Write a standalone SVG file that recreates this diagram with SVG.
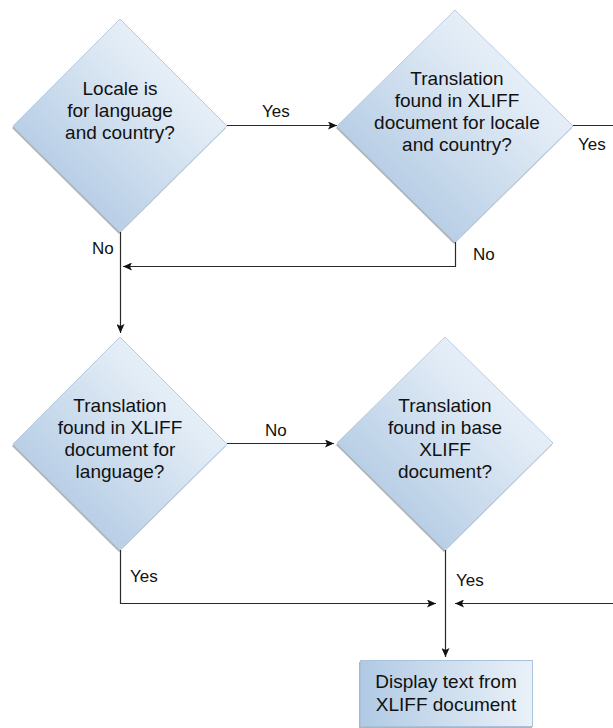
<svg xmlns="http://www.w3.org/2000/svg" width="613" height="728" viewBox="0 0 613 728">
<defs>
<linearGradient id="dg" x1="1" y1="0" x2="0" y2="1">
<stop offset="0" stop-color="#f4f8fc"/>
<stop offset="0.3" stop-color="#e2ecf6"/>
<stop offset="1" stop-color="#a2bfdd"/>
</linearGradient>
<linearGradient id="bg" x1="0" y1="0" x2="1" y2="0">
<stop offset="0" stop-color="#b0cae4"/>
<stop offset="1" stop-color="#eaf1f8"/>
</linearGradient>
<marker id="ah" markerWidth="10" markerHeight="8" refX="9" refY="4" orient="auto" markerUnits="userSpaceOnUse">
<path d="M0,0 L9,4 L0,8 L2,4 Z" fill="#111"/>
</marker>
</defs>
<style>
.sh{fill:#6d7680;opacity:0.55}
.dm{fill:url(#dg);stroke:#b9cde2;stroke-width:1}
.bx{fill:url(#bg);stroke:#a9c1da;stroke-width:1}
.t{font-family:"Liberation Sans",Arial,sans-serif;font-size:19px;fill:#111;text-anchor:middle}
.l{font-family:"Liberation Sans",Arial,sans-serif;font-size:17px;fill:#111}
.c{fill:none;stroke:#2a2a2a;stroke-width:1.2}
.a{marker-end:url(#ah)}
</style>
<g id="d1">
<polygon class="sh" points="119,21 12,128 119,234 226,128"/>
<polygon class="dm" points="120,19 13,126 120,232 227,126"/>
<text class="t" x="120" y="95">Locale is</text>
<text class="t" x="120" y="117">for language</text>
<text class="t" x="120" y="139">and country?</text>
</g>
<g id="d2">
<polygon class="sh" points="454,12 336,128 454,244 572,128"/>
<polygon class="dm" points="455,10 337,126 455,242 573,126"/>
<text class="t" x="457" y="85">Translation</text>
<text class="t" x="457" y="107">found in XLIFF</text>
<text class="t" x="457" y="129">document for locale</text>
<text class="t" x="457" y="151">and country?</text>
</g>
<g id="d3">
<polygon class="sh" points="119,339 12,446 119,552 226,446"/>
<polygon class="dm" points="120,337 13,444 120,550 227,444"/>
<text class="t" x="120" y="412">Translation</text>
<text class="t" x="120" y="434">found in XLIFF</text>
<text class="t" x="120" y="456">document for</text>
<text class="t" x="120" y="478">language?</text>
</g>
<g id="d4">
<polygon class="sh" points="444,339 336,445 444,552 552,445"/>
<polygon class="dm" points="445,337 337,443 445,550 553,443"/>
<text class="t" x="445" y="412">Translation</text>
<text class="t" x="445" y="434">found in base</text>
<text class="t" x="445" y="456">XLIFF</text>
<text class="t" x="445" y="478">document?</text>
</g>
<g id="box">
<rect class="sh" x="359" y="662" width="173" height="66"/>
<rect class="bx" x="360.5" y="660.5" width="172" height="66"/>
<text class="t" x="446" y="688">Display text from</text>
<text class="t" x="446" y="711">XLIFF document</text>
</g>
<g id="connectors">
<line class="c a" x1="227" y1="125.5" x2="337" y2="125.5"/>
<line class="c" x1="573" y1="125.5" x2="613" y2="125.5"/>
<polyline class="c a" points="455.5,242 455.5,266.5 123,266.5"/>
<line class="c a" x1="120.5" y1="232" x2="120.5" y2="333"/>
<line class="c a" x1="227" y1="443.5" x2="334" y2="443.5"/>
<polyline class="c a" points="120.5,550 120.5,603.5 436,603.5"/>
<line class="c a" x1="445.5" y1="550" x2="445.5" y2="657"/>
<line class="c a" x1="613" y1="603.5" x2="455" y2="603.5"/>
</g>
<g id="labels">
<text class="l" x="262" y="117">Yes</text>
<text class="l" x="578" y="150">Yes</text>
<text class="l" x="473" y="260">No</text>
<text class="l" x="92" y="254">No</text>
<text class="l" x="265" y="436">No</text>
<text class="l" x="130" y="582">Yes</text>
<text class="l" x="456" y="586">Yes</text>
</g>
</svg>
